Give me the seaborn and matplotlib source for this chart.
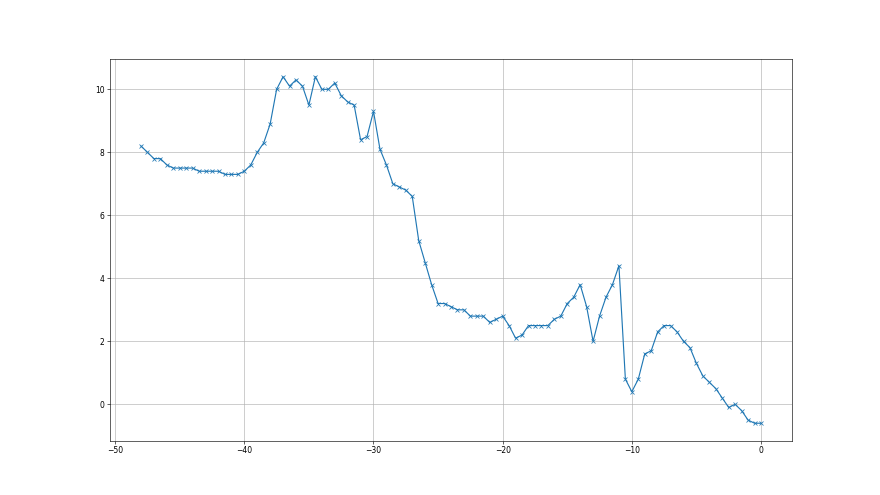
import matplotlib
matplotlib.use("Agg")
import matplotlib.pyplot as plt
import seaborn as sns
import pandas as pd

x_values = [
    -48.0, -47.5, -47.0, -46.5, -46.0, -45.5, -45.0, -44.5, -44.0, -43.5,
    -43.0, -42.5, -42.0, -41.5, -41.0, -40.5, -40.0, -39.5, -39.0, -38.5,
    -38.0, -37.5, -37.0, -36.5, -36.0, -35.5, -35.0, -34.5, -34.0, -33.5,
    -33.0, -32.5, -32.0, -31.5, -31.0, -30.5, -30.0, -29.5, -29.0, -28.5,
    -28.0, -27.5, -27.0, -26.5, -26.0, -25.5, -25.0, -24.5, -24.0, -23.5,
    -23.0, -22.5, -22.0, -21.5, -21.0, -20.5, -20.0, -19.5, -19.0, -18.5,
    -18.0, -17.5, -17.0, -16.5, -16.0, -15.5, -15.0, -14.5, -14.0, -13.5,
    -13.0, -12.5, -12.0, -11.5, -11.0, -10.5, -10.0, -9.5, -9.0, -8.5,
    -8.0, -7.5, -7.0, -6.5, -6.0, -5.5, -5.0, -4.5, -4.0, -3.5,
    -3.0, -2.5, -2.0, -1.5, -1.0, -0.5, 0.0,
]
y_values = [
    8.2, 8.0, 7.8, 7.8, 7.6, 7.5, 7.5, 7.5, 7.5, 7.4,
    7.4, 7.4, 7.4, 7.3, 7.3, 7.3, 7.4, 7.6, 8.0, 8.3,
    8.9, 10.0, 10.4, 10.1, 10.3, 10.1, 9.5, 10.4, 10.0, 10.0,
    10.2, 9.8, 9.6, 9.5, 8.4, 8.5, 9.3, 8.1, 7.6, 7.0,
    6.9, 6.8, 6.6, 5.2, 4.5, 3.8, 3.2, 3.2, 3.1, 3.0,
    3.0, 2.8, 2.8, 2.8, 2.6, 2.7, 2.8, 2.5, 2.1, 2.2,
    2.5, 2.5, 2.5, 2.5, 2.7, 2.8, 3.2, 3.4, 3.8, 3.1,
    2.0, 2.8, 3.4, 3.8, 4.4, 0.8, 0.4, 0.8, 1.6, 1.7,
    2.3, 2.5, 2.5, 2.3, 2.0, 1.8, 1.3, 0.9, 0.7, 0.5,
    0.2, -0.1, 0.0, -0.2, -0.5, -0.6, -0.6,
]

df = pd.DataFrame({"x": x_values, "y": y_values})

plt.rcParams.update(plt.rcParamsDefault)
fig, ax = plt.subplots(figsize=(16, 9), dpi=55)
fig.subplots_adjust(left=0.125, right=0.9, bottom=0.11, top=0.88)

sns.lineplot(data=df, x="x", y="y", ax=ax, marker="x", color="#1f77b4",
             markeredgecolor="#1f77b4", markersize=6, markeredgewidth=1.0,
             linewidth=1.5)
ax.grid(True, color="#b0b0b0", linewidth=0.8)
ax.set_xlabel("")
ax.set_ylabel("")
ax.set_xticks([-50, -40, -30, -20, -10, 0])
ax.set_yticks([0, 2, 4, 6, 8, 10])
for s in ax.spines.values():
    s.set_color("black")

fig.savefig("out.png", dpi=55)
